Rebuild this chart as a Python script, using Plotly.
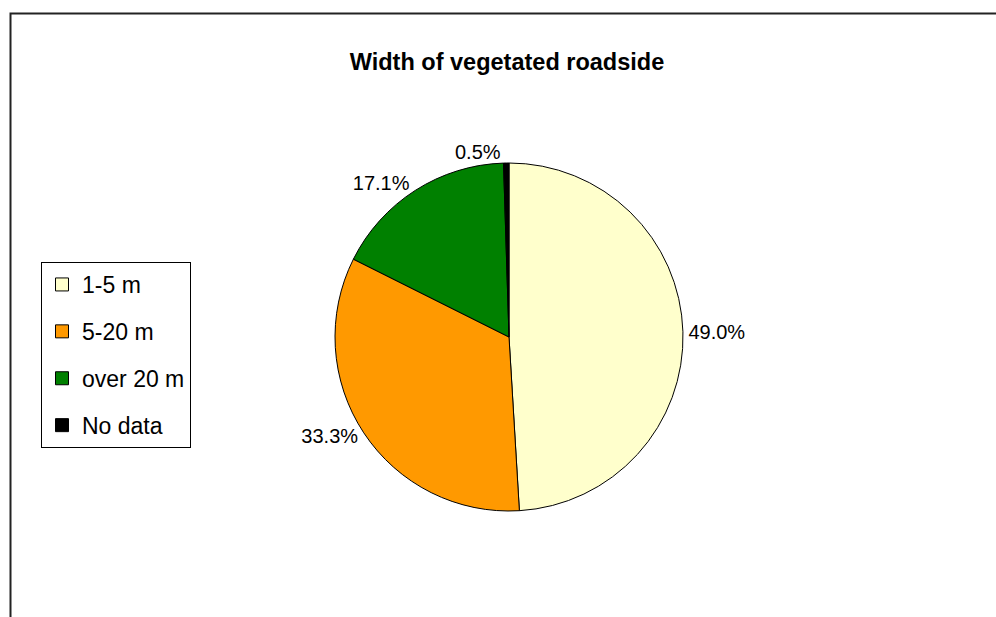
import plotly.graph_objects as go

# ---- data ----
categories = ["1-5 m", "5-20 m", "over 20 m", "No data"]
shares = [49.0, 33.3, 17.1, 0.5]
colors = ["#FFFFCC", "#FF9900", "#008000", "#000000"]
title_text = "Width of vegetated roadside"

W, H = 996, 617
FONT = "Liberation Sans, Arial, sans-serif"

fig = go.Figure()

# pie centre ~ (509, 337) px, radius ~174 px
cx, cy, r = 509, 337, 174
fig.add_trace(go.Pie(
    labels=categories,
    values=shares,
    marker=dict(colors=colors, line=dict(color="#000000", width=1)),
    sort=False,
    direction="clockwise",
    rotation=0,
    textposition="outside",
    texttemplate="%{value:.1f}%",
    textfont=dict(family=FONT, size=20, color="#000000"),
    domain=dict(x=[(cx - r) / W, (cx + r) / W], y=[1 - (cy + r) / H, 1 - (cy - r) / H]),
    showlegend=False,
    hoverinfo="label+value",
))

# legend entries (one group each so that spacing can be set)
for name, col in zip(categories, colors):
    fig.add_trace(go.Scatter(
        x=[None], y=[None], mode="markers", name=name,
        legendgroup=name,
        marker=dict(symbol="square", size=13, color=col, line=dict(color="#000000", width=1)),
    ))

# outer chart frame (runs off right and bottom edges)
fig.add_shape(type="rect", xref="paper", yref="paper",
              x0=10.5 / W, x1=1.02, y0=-0.02, y1=1 - 13.5 / H,
              line=dict(color="#222222", width=2), fillcolor="rgba(0,0,0,0)", layer="below")

fig.update_layout(
    width=W, height=H,
    margin=dict(l=0, r=0, t=0, b=0),
    paper_bgcolor="white", plot_bgcolor="white",
    font=dict(family=FONT, color="#000000"),
    title=dict(text=title_text, x=507 / W, xanchor="center", y=1 - 62 / H, yanchor="middle",
               font=dict(family=FONT, size=23.5, color="#000000", weight="bold")),
    xaxis=dict(visible=False), yaxis=dict(visible=False),
    legend=dict(x=41 / W, xanchor="left", y=1 - 262 / H, yanchor="top",
                bgcolor="white", bordercolor="#000000", borderwidth=1,
                font=dict(family=FONT, size=23, color="#000000"),
                traceorder="grouped", tracegroupgap=14),
)

fig.write_html("out.html")
